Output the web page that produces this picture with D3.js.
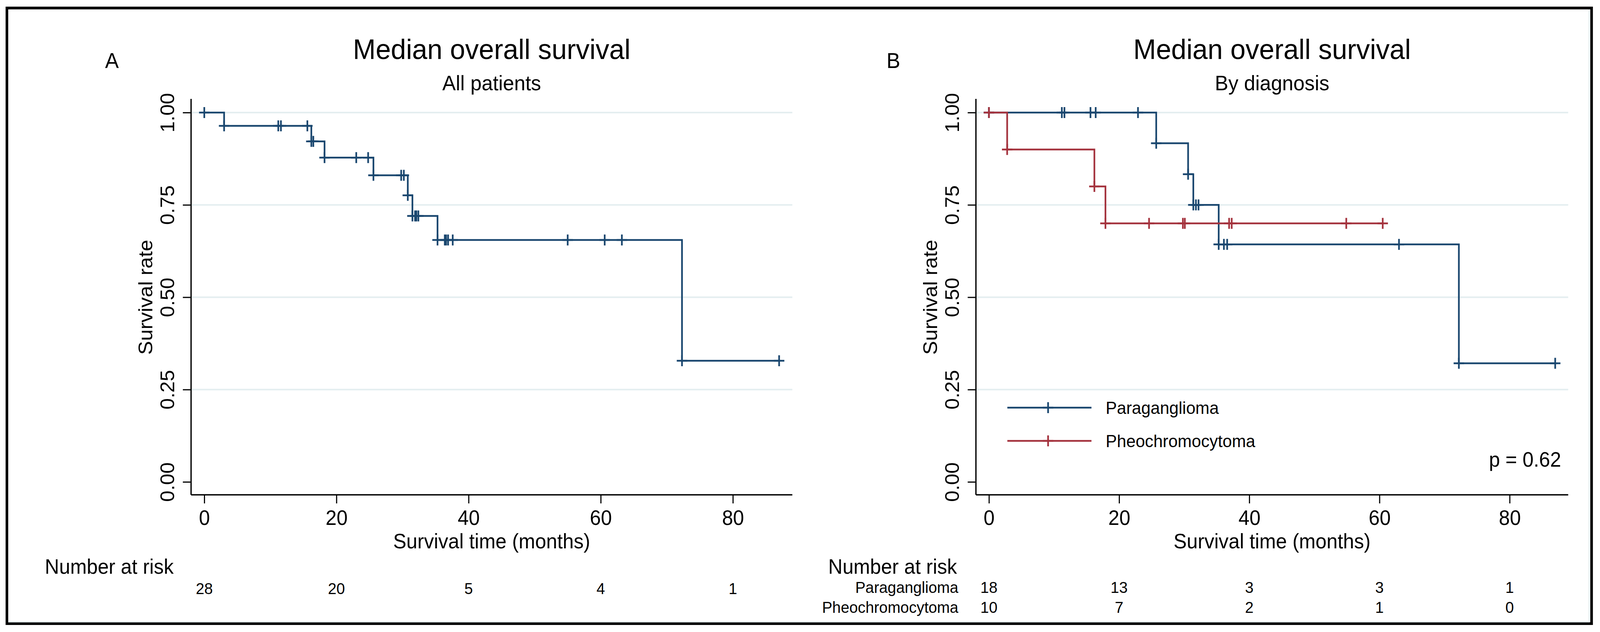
<!DOCTYPE html>
<html>
<head>
<meta charset="utf-8">
<script src="https://cdnjs.cloudflare.com/ajax/libs/d3/7.8.5/d3.min.js"></script>
<style>
    html, body { margin: 0; padding: 0; background: #fff; overflow: hidden; }
    svg { display: block; }
    text { font-family: "Liberation Sans", Arial, Helvetica, sans-serif; fill: #000; }
</style>
</head>
<body>
<div class="visholder"></div>
<script>
// data
const timeTicks = [0, 20, 40, 60, 80];
const survTicks = [0, 0.25, 0.5, 0.75, 1];

// panel A, all patients (time in months, survival)
const allTimes = [0, 3.0, 11.2, 11.6, 15.6, 16.2, 16.5, 18.2, 23.0, 24.8, 25.6, 29.8, 30.2, 30.8,
    31.5, 31.9, 32.1, 32.4, 35.3, 36.4, 36.6, 36.9, 37.6, 55.0, 60.6, 63.2, 72.3, 87.0];
const allSurv = [1, 0.964, 0.964, 0.964, 0.964, 0.922, 0.922, 0.878, 0.878, 0.878, 0.830, 0.830, 0.830, 0.776,
    0.720, 0.720, 0.720, 0.720, 0.655, 0.655, 0.655, 0.655, 0.655, 0.655, 0.655, 0.655, 0.328, 0.328];
const allAtRisk = [28, 20, 5, 4, 1];

// panel B, by diagnosis
const groups = ["Paraganglioma", "Pheochromocytoma"];
const paraTimes = [0, 11.2, 11.6, 15.6, 16.4, 22.9, 25.7, 30.6, 31.4, 31.8, 32.2, 35.3, 36.1, 36.6, 63.0, 72.2, 87.0];
const paraSurv = [1, 1, 1, 1, 1, 1, 0.917, 0.833, 0.750, 0.750, 0.750, 0.643, 0.643, 0.643, 0.643, 0.321, 0.321];
const pheoTimes = [0, 2.8, 16.2, 17.9, 24.6, 29.8, 30.1, 36.9, 37.3, 54.9, 60.5];
const pheoSurv = [1, 0.9, 0.8, 0.7, 0.7, 0.7, 0.7, 0.7, 0.7, 0.7, 0.7];
const paraAtRisk = [18, 13, 3, 3, 1];
const pheoAtRisk = [10, 7, 2, 1, 0];
const pValue = "p = 0.62";

const blue = "#1a476f", red = "#a4323d", grid = "#e4eef0";
const curveWidth = 4.5;

// drawing is laid out on a 4279 x 1617 grid and stretched to the window
const W = 4279, H = 1617;
let svg = d3.select(".visholder").append("svg")
    .attr("viewBox", `0 0 ${W} ${H}`)
    .attr("preserveAspectRatio", "none")
    .style("width", "100vw").style("height", "100vh");

// outer frame
svg.append("rect").attr("x", 18.5).attr("y", 20.5).attr("width", 4238).attr("height", 1575)
    .attr("fill", "none").attr("stroke", "#000").attr("stroke-width", 7);
svg.append("path").attr("d", "M4250,24V1591H22")
    .attr("fill", "none").attr("stroke", grid).attr("stroke-width", 3);

const yScale = d3.scaleLinear().domain([-0.035, 1.037]).range([1266, 253]);

function plusPath(size) {
    return `M${-size},0H${size}M0,${-size}V${size}`;
}

function panel(opts) {
    const x = d3.scaleLinear().domain([-2, 89]).range([opts.left, opts.right]);
    const cx = (opts.left + opts.right) / 2;
    const g = svg.append("g");

    // letter, title, subtitle
    g.append("text").text(opts.letter).attr("x", opts.letterX).attr("y", 174)
        .style("font-size", "55px").style("font-family", "'Liberation Sans Narrow', 'Liberation Sans', sans-serif");
    g.append("text").text("Median overall survival").attr("x", cx).attr("y", 151)
        .attr("text-anchor", "middle").style("font-size", "73px");
    g.append("text").text(opts.subtitle).attr("x", cx).attr("y", 231)
        .attr("text-anchor", "middle").style("font-size", "54px");

    // gridlines
    g.selectAll(".grid").data(survTicks.filter(d => d > 0)).enter().append("line")
        .attr("x1", opts.left).attr("x2", opts.right)
        .attr("y1", d => yScale(d)).attr("y2", d => yScale(d))
        .attr("stroke", grid).attr("stroke-width", 4);

    // y axis
    let yAxis = d3.axisLeft(yScale).tickValues(survTicks).tickFormat(d3.format(".2f")).tickSize(22);
    let ya = g.append("g").attr("transform", `translate(${opts.left},0)`).call(yAxis);
    ya.select(".domain").attr("d", `M0,253V1266`).attr("stroke-width", 3.5);
    ya.selectAll(".tick line").attr("stroke-width", 3);
    ya.selectAll(".tick text")
        .attr("transform", "rotate(-90)")
        .attr("x", 0).attr("y", -45).attr("dy", 0)
        .attr("text-anchor", "middle")
        .style("font-size", "52px").style("font-family", "'Liberation Sans', sans-serif");

    g.append("text").text("Survival rate")
        .attr("transform", `translate(${opts.left - 104},${yScale(0.5)}) rotate(-90)`)
        .attr("text-anchor", "middle").style("font-size", "53px");

    // x axis
    let xAxis = d3.axisBottom(x).tickValues(timeTicks).tickSize(22);
    let xa = g.append("g").attr("transform", "translate(0,1266)").call(xAxis);
    xa.select(".domain").attr("d", `M${opts.left},0H${opts.right}`).attr("stroke-width", 3.5);
    xa.selectAll(".tick line").attr("stroke-width", 3);
    xa.selectAll(".tick text").attr("dy", 0).attr("y", 77)
        .style("font-size", "53px").style("font-family", "'Liberation Sans', sans-serif");

    g.append("text").text("Survival time (months)").attr("x", cx).attr("y", 1403)
        .attr("text-anchor", "middle").style("font-size", "53px");

    // curves
    opts.series.forEach(s => {
        const pts = s.times.map((t, i) => [t, s.surv[i]]);
        g.append("path").datum(pts)
            .attr("d", d3.line().x(d => x(d[0])).y(d => yScale(d[1])).curve(d3.curveStepAfter))
            .attr("fill", "none").attr("stroke", s.color).attr("stroke-width", curveWidth);
        g.selectAll(null).data(pts).enter().append("path")
            .attr("d", plusPath(14))
            .attr("transform", d => `translate(${x(d[0])},${yScale(d[1])})`)
            .attr("stroke", s.color).attr("stroke-width", curveWidth).attr("fill", "none");
    });

    // number at risk
    g.append("text").text("Number at risk").attr("x", opts.riskX).attr("y", 1468)
        .style("font-size", "53px");
    opts.risk.forEach((r, k) => {
        const yy = opts.riskRows[k];
        if (r.label) {
            g.append("text").text(r.label).attr("x", opts.labelRight).attr("y", yy)
                .attr("text-anchor", "end").style("font-size", "41px");
        }
        g.selectAll(null).data(r.values).enter().append("text")
            .text(d => d)
            .attr("x", (d, i) => x(timeTicks[i]))
            .attr("y", yy)
            .attr("text-anchor", "middle").style("font-size", "41px");
    });
    return x;
}

// panel A
panel({
    letter: "A", letterX: 281, subtitle: "All patients",
    left: 511, right: 2119, riskX: 120,
    series: [{ times: allTimes, surv: allSurv, color: blue }],
    risk: [{ values: allAtRisk }], riskRows: [1520]
});

// panel B
panel({
    letter: "B", letterX: 2371, subtitle: "By diagnosis",
    left: 2610, right: 4194, riskX: 2215, labelRight: 2563,
    series: [{ times: paraTimes, surv: paraSurv, color: blue },
             { times: pheoTimes, surv: pheoSurv, color: red }],
    risk: [{ label: groups[0], values: paraAtRisk }, { label: groups[1], values: pheoAtRisk }],
    riskRows: [1517, 1568]
});

// legend in panel B
const legendColors = [blue, red];
const legend = svg.append("g").selectAll("g").data(groups).enter().append("g")
    .attr("transform", (d, i) => `translate(2694,${1043 + i * 85})`);
legend.append("line").attr("x1", 0).attr("x2", 225)
    .attr("stroke", (d, i) => legendColors[i]).attr("stroke-width", curveWidth);
legend.append("path").attr("d", plusPath(14)).attr("transform", "translate(109,0)")
    .attr("stroke", (d, i) => legendColors[i]).attr("stroke-width", curveWidth);
legend.append("text").text(d => d).attr("x", 263).attr("y", 16).style("font-size", "45px");

svg.append("text").text(pValue).attr("x", 4175).attr("y", 1194)
    .attr("text-anchor", "end").style("font-size", "53px");
</script>
</body>
</html>
